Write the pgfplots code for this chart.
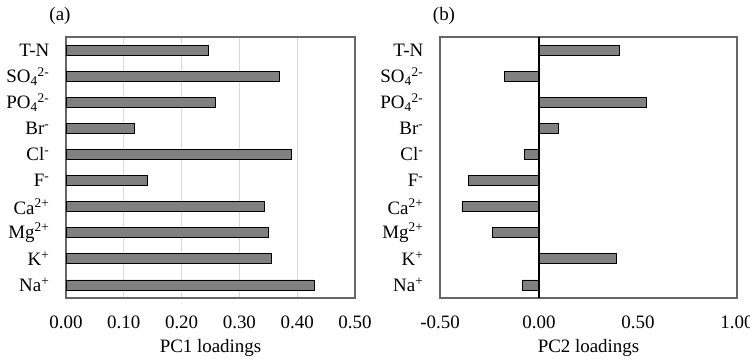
\documentclass[border=0pt]{standalone}
\usepackage{pgfplots}
\pgfplotsset{compat=1.18}
\usepackage{fontspec}
\setmainfont{Liberation Serif}
\begin{document}
\begin{tikzpicture}[x=1bp,y=1bp]
\useasboundingbox (0,0) rectangle (750,358);
\pgfplotsset{
  myax/.style={
    scale only axis,
    xbar,
    bar width=10bp,
    height=261bp,
    ymin=-0.5, ymax=9.5,
    ytick={0,...,9},
    yticklabels={Na\textsuperscript{+},K\textsuperscript{+},Mg\textsuperscript{2+},Ca\textsuperscript{2+},F\textsuperscript{-},Cl\textsuperscript{-},Br\textsuperscript{-},PO\textsubscript{4}\textsuperscript{2-},SO\textsubscript{4}\textsuperscript{2-},T-N},
    tick style={draw=none},
    axis line style={draw=black!60, line width=1.1pt},
    tick label style={font=\fontsize{19}{20}\selectfont},
    label style={font=\fontsize{19}{20}\selectfont},
    yticklabel style={xshift=-9bp},
    xticklabel style={yshift=-14bp},
    xlabel style={yshift=-4bp},
  }
}
\begin{axis}[myax, at={(66bp,60bp)}, anchor=south west,
  width=289bp,
  xmin=0, xmax=0.5,
  xtick={0,0.1,0.2,0.3,0.4,0.5},
  xticklabels={0.00,0.10,0.20,0.30,0.40,0.50},
  xmajorgrids, major grid style={draw=black!15, line width=0.8pt},
  xlabel={PC1 loadings}]
\addplot[fill=black!50, draw=black, line width=0.8pt] coordinates {
(0.429,0) (0.356,1) (0.351,2) (0.343,3) (0.140,4) (0.390,5) (0.119,6) (0.258,7) (0.370,8) (0.247,9)};
\end{axis}
\begin{axis}[myax, at={(440bp,60bp)}, anchor=south west,
  width=297bp,
  xmin=-0.5, xmax=1.0,
  xtick={-0.5,0,0.5,1.0},
  xticklabels={-0.50,0.00,0.50,1.00},
  xlabel={PC2 loadings}]
\addplot[fill=black!50, draw=black, line width=0.8pt] coordinates {
(-0.082,0) (0.390,1) (-0.234,2) (-0.389,3) (-0.355,4) (-0.075,5) (0.100,6) (0.542,7) (-0.173,8) (0.407,9)};
\draw[black, line width=1.3pt] (axis cs:0,-0.5) -- (axis cs:0,9.5);
\end{axis}
\node[font=\fontsize{19}{20}\selectfont] at (60,342) {(a)};
\node[font=\fontsize{19}{20}\selectfont] at (444,342) {(b)};
\end{tikzpicture}
\end{document}
